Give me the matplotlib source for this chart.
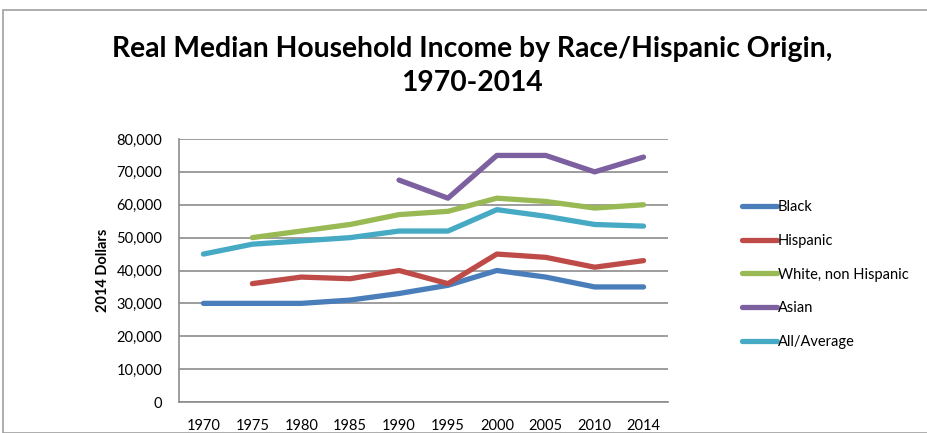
import matplotlib
matplotlib.use("Agg")
import matplotlib.pyplot as plt
from matplotlib.patches import Rectangle
import numpy as np

years = ["1970", "1975", "1980", "1985", "1990", "1995", "2000", "2005", "2010", "2014"]
black = [30000, 30000, 30000, 31000, 33000, 35500, 40000, 38000, 35000, 35000]
hispanic = [None, 36000, 38000, 37500, 40000, 36000, 45000, 44000, 41000, 43000]
white = [None, 50000, 52000, 54000, 57000, 58000, 62000, 61000, 59000, 60000]
asian = [None, None, None, None, 67500, 62000, 75000, 75000, 70000, 74500]
average = [45000, 48000, 49000, 50000, 52000, 52000, 58500, 56500, 54000, 53500]

series = [
    ("Black", black, "#4a7ebb"),
    ("Hispanic", hispanic, "#be4b48"),
    ("White, non Hispanic", white, "#98b954"),
    ("Asian", asian, "#7d60a0"),
    ("All/Average", average, "#46aac5"),
]

plt.rcParams["font.family"] = ["Lato", "DejaVu Sans"]

fig = plt.figure(figsize=(9.28, 4.33), dpi=100)
ax = fig.add_axes([179 / 928, 1 - 402 / 433, (668 - 179) / 928, (402 - 139) / 433])

x = np.arange(len(years)) + 0.5
for name, vals, col in series:
    y = np.array([np.nan if v is None else v for v in vals], dtype=float)
    ax.plot(x, y, color=col, linewidth=3.8, solid_capstyle="round",
            solid_joinstyle="round", label=name)

ax.set_xlim(0, len(years))
ax.set_ylim(0, 80000)
ax.set_yticks(np.arange(0, 80001, 10000))
ax.set_yticklabels([f"{v:,}" for v in range(0, 80001, 10000)], fontsize=10.5)
ax.set_xticks(x)
ax.set_xticklabels(years, fontsize=10.5)
ax.tick_params(axis="x", length=0, pad=12)
ax.tick_params(axis="y", length=0, pad=12)
ax.grid(axis="y", color="#8c8c8c", linewidth=1.2)
ax.set_axisbelow(True)
for s in ["top", "right"]:
    ax.spines[s].set_visible(False)
for s in ["left", "bottom"]:
    ax.spines[s].set_color("#8c8c8c")
    ax.spines[s].set_linewidth(1.2)
ax.set_ylabel("2014 Dollars", fontsize=10.5, fontweight="bold", labelpad=5)

fig.text(472 / 928, 1 - 66 / 433,
         "Real Median Household Income by Race/Hispanic Origin,\n1970-2014",
         ha="center", va="center", fontsize=20.3, fontweight="bold",
         linespacing=1.38)

leg = fig.legend(loc="upper left", bbox_to_anchor=(729 / 928, 1 - 187 / 433),
                 frameon=False, fontsize=10.5, handlelength=2.4,
                 handletextpad=0.05, labelspacing=1.35)

fig.patches.append(Rectangle((3 / 928, 0), 1.2, 1 - 10 / 433,
                             transform=fig.transFigure, fill=False,
                             edgecolor="#a0a0a0", linewidth=1.2))

fig.savefig("out.png", dpi=100)
